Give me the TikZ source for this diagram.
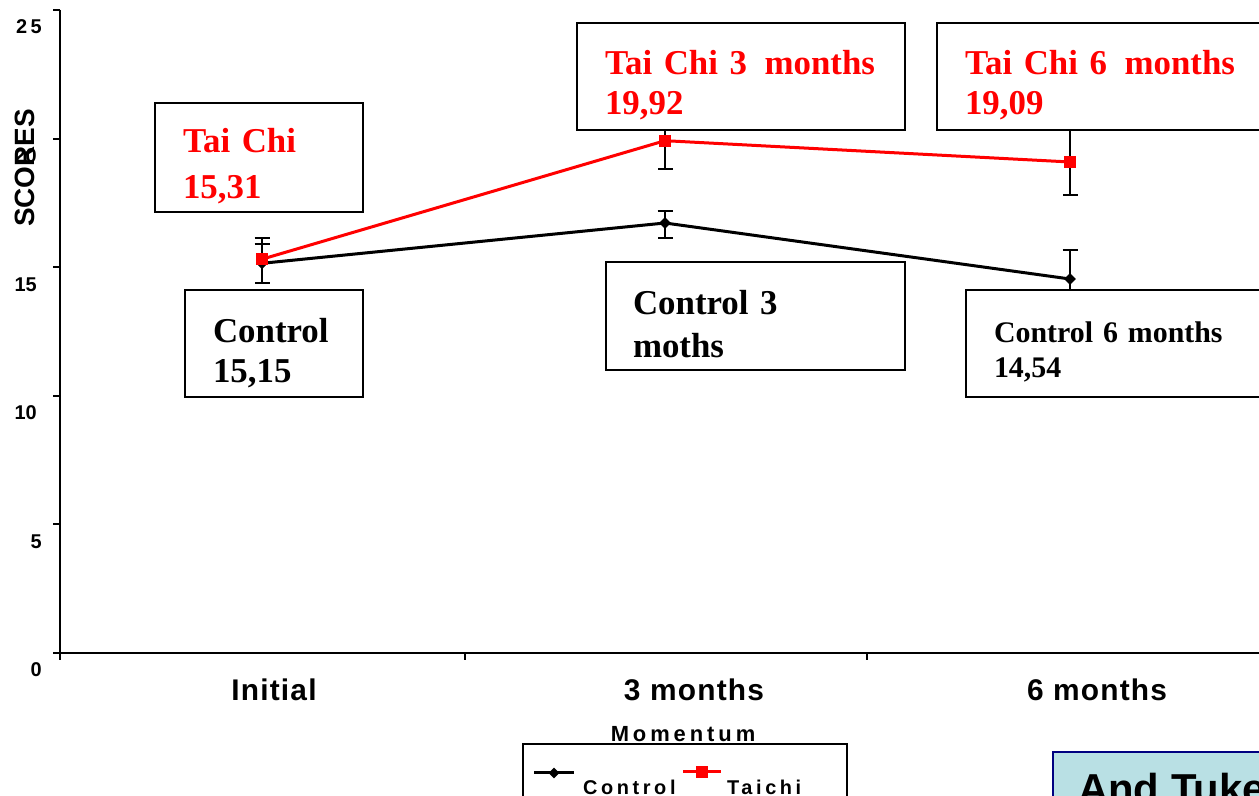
\documentclass[tikz,border=0pt]{standalone}
\usepackage{fontspec}
\setmainfont{Liberation Serif}
\newfontfamily\chartsans{Liberation Sans}
\newfontfamily\chartsanswide[LetterSpace=4]{Liberation Sans}
\newfontfamily\chartsanswider[LetterSpace=18]{Liberation Sans}
\usepackage{tikz}
\usetikzlibrary{shapes.geometric, arrows, arrows.meta, positioning}
\definecolor{tukeyfill}{RGB}{185,224,228}
\definecolor{tukeyline}{RGB}{0,0,128}
\newcommand{\padtop}[1]{\rule{0pt}{#1}}
\tikzstyle{axisline} = [line width=2bp, black]
\tikzstyle{ticklabel} = [anchor=base east, inner sep=0pt, font=\chartsans\bfseries\fontsize{20}{24}\selectfont]
\tikzstyle{catlabel} = [anchor=base, inner sep=0pt, font=\chartsanswide\bfseries\fontsize{30}{36}\selectfont]
\tikzstyle{valbox} = [rectangle, draw=black, line width=1.5bp, fill=white, inner sep=0pt, align=left]
\tikzstyle{ctrlline} = [line width=3bp, black, line join=round]
\tikzstyle{tcline} = [line width=3bp, red, line join=round]
\tikzstyle{ctrlmark} = [diamond, fill=black, inner sep=0pt, minimum size=12bp]
\tikzstyle{tcmark} = [rectangle, fill=red, inner sep=0pt, minimum size=12bp]
\tikzstyle{errbar} = [line width=2bp, black, {Bar[width=15bp]}-{Bar[width=15bp]}]
\tikzstyle{legtext} = [anchor=base west, inner sep=0pt, font=\chartsanswider\bfseries\fontsize{20}{24}\selectfont]

\begin{document}
\begin{tikzpicture}[>=latex]
\useasboundingbox (0,0) rectangle (1259bp,796bp);
\clip (0,0) rectangle (1259bp,796bp);
%% axes
\draw[axisline] (60bp,786bp) -- (60bp,143bp) -- (1275bp,143bp);
\draw[axisline] (53bp,786bp) -- (60bp,786bp);
\draw[axisline] (53bp,657.4bp) -- (60bp,657.4bp);
\draw[axisline] (53bp,528.8bp) -- (60bp,528.8bp);
\draw[axisline] (53bp,400.2bp) -- (60bp,400.2bp);
\draw[axisline] (53bp,271.6bp) -- (60bp,271.6bp);
\draw[axisline] (53bp,143bp) -- (60bp,143bp);
\draw[axisline] (60bp,143bp) -- (60bp,136bp);
\draw[axisline] (465bp,143bp) -- (465bp,136bp);
\draw[axisline] (867bp,143bp) -- (867bp,136bp);
\node[ticklabel] (lab0) at (42bp,119bp) {0};
\node[ticklabel] (lab5) at (42bp,247.6bp) {5};
\node[ticklabel] (lab10) at (37bp,376.2bp) {10};
\node[ticklabel] (lab15) at (37bp,504.8bp) {15};
\node[ticklabel] (lab20) at (37bp,633.4bp) {20};
\node[ticklabel, font=\chartsanswider\bfseries\fontsize{20}{24}\selectfont] (lab25) at (42bp,762bp) {25};
\node[rotate=90, inner sep=0pt, font=\chartsans\bfseries\fontsize{28}{32}\selectfont] (ytitle) at (25bp,628bp) {SCORES};
\node[catlabel] (catinit) at (274bp,95bp) {Initial};
\node[catlabel] (cat3) at (694bp,95bp) {3 months};
\node[catlabel] (cat6) at (1097bp,95bp) {6 months};
\node[anchor=base, inner sep=0pt, font=\chartsanswider\bfseries\fontsize{22}{26}\selectfont] (xtitle) at (683bp,54bp) {Momentum};
%% data points
\coordinate (ctrl1) at (262bp,532.7bp);
\coordinate (ctrl2) at (665bp,573.0bp);
\coordinate (ctrl3) at (1070bp,517.0bp);
\coordinate (tc1) at (262bp,536.8bp);
\coordinate (tc2) at (665bp,655.3bp);
\coordinate (tc3) at (1070bp,634.0bp);
%% error bars
\draw[errbar] (262bp,512bp) -- (262bp,559bp);
\draw[line width=2bp, -{Bar[width=15bp]}] (tc1) -- (262bp,553bp);
\draw[errbar] (665bp,557bp) -- (665bp,586bp);
\draw[errbar] (665bp,626.3bp) -- (665bp,684bp);
\draw[errbar] (1070bp,487bp) -- (1070bp,547bp);
\draw[errbar] (1070bp,600bp) -- (1070bp,668bp);
%% series
\draw[ctrlline] (ctrl1) -- (ctrl2) -- (ctrl3);
\draw[tcline] (tc1) -- (tc2) -- (tc3);
\node[ctrlmark] (ctrlm1) at (ctrl1) {};
\node[ctrlmark] (ctrlm2) at (ctrl2) {};
\node[ctrlmark] (ctrlm3) at (ctrl3) {};
\node[tcmark] (tcm1) at (tc1) {};
\node[tcmark] (tcm2) at (tc2) {};
\node[tcmark] (tcm3) at (tc3) {};
%% value boxes
\node[valbox, minimum width=208bp, minimum height=109bp, text width=152bp, text=red, font=\bfseries\fontsize{35}{46}\selectfont] (boxtc1) at (259bp,638.5bp) {\padtop{41bp}Tai Chi\\15,31};
\node[valbox, minimum width=178bp, minimum height=107bp, text width=122bp, font=\bfseries\fontsize{35}{40}\selectfont] (boxctrl1) at (274bp,452.5bp) {\padtop{43bp}Control\\15,15};
\node[valbox, minimum width=328bp, minimum height=107bp, text width=272bp, text=red, font=\bfseries\fontsize{35}{40}\selectfont] (boxtc2) at (741bp,719.5bp) {\padtop{41bp}Tai Chi 3\enspace months\\19,92};
\node[valbox, minimum width=338bp, minimum height=107bp, text width=282bp, text=red, font=\bfseries\fontsize{35}{40}\selectfont] (boxtc3) at (1106bp,719.5bp) {\padtop{41bp}Tai Chi 6\enspace months\\19,09};
\node[valbox, minimum width=299bp, minimum height=108bp, text width=245bp, font=\bfseries\fontsize{35}{43}\selectfont] (boxctrl2) at (755.5bp,480bp) {\padtop{41bp}Control 3\\moths};
\node[valbox, minimum width=309bp, minimum height=107bp, text width=253bp, font=\bfseries\fontsize{30}{35}\selectfont] (boxctrl3) at (1120.5bp,452.5bp) {\padtop{37bp}Control 6 months\\14,54};
%% legend
\node[rectangle, draw=black, line width=1.5bp, fill=white, minimum width=324bp, minimum height=60bp, inner sep=0pt] (legend) at (685bp,22bp) {};
\coordinate (legc1) at (534bp,23bp);
\coordinate (legc2) at (574bp,23bp);
\coordinate (legt1) at (683bp,24bp);
\coordinate (legt2) at (721bp,24bp);
\draw[ctrlline] (legc1) -- (legc2);
\node[ctrlmark, minimum size=11bp] (legcm) at (554bp,23bp) {};
\draw[tcline] (legt1) -- (legt2);
\node[tcmark] (legtm) at (702bp,24bp) {};
\node[legtext] (legctext) at (583bp,2bp) {Control};
\node[legtext] (legttext) at (727bp,2bp) {Taichi};
%% note box
\node[rectangle, draw=tukeyline, line width=2bp, fill=tukeyfill, minimum width=222bp, minimum height=60bp, inner sep=0pt] (tukey) at (1164bp,14bp) {};
\node[anchor=base west, inner sep=0pt, font=\chartsans\bfseries\fontsize{42}{48}\selectfont] (tukeytext) at (1078bp,-7bp) {And Tukey};
\end{tikzpicture}
\end{document}
